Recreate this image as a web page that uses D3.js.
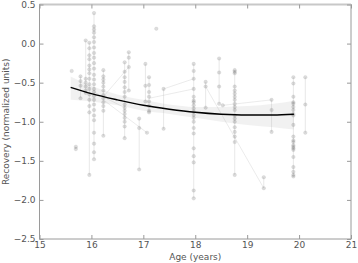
<!DOCTYPE html>
<html><head><meta charset="utf-8">
<script src="https://cdn.jsdelivr.net/npm/d3@7"></script>
<style>html,body{margin:0;padding:0;background:#fff;}svg{display:block;font-family:"DejaVu Sans",sans-serif;}</style>
</head><body><div id="chart"></div>
<script>
// Subjects: each a column of repeated measurements at one age
const subjectAges = [15.62, 15.70, 15.79, 15.89, 15.96, 16.05, 16.23, 16.64, 16.72, 16.92, 17.04, 17.11, 17.25, 17.07, 17.39, 17.97, 18.20, 18.46, 18.53, 18.76, 19.32, 19.47, 19.89, 20.12];
const subjectValues = [
  [-0.35],
  [-1.32, -1.35],
  [-0.42, -0.48, -0.54, -0.70],
  [0.04, -0.45, -0.50, -0.55, -0.60, -0.63],
  [0.01, -0.06, -0.15, -0.20, -0.28, -0.33, -0.38, -0.45, -0.52, -0.58, -0.65, -0.72, -0.80, -0.88, -1.68],
  [0.39, 0.22, 0.18, 0.14, 0.08, 0.02, -0.05, -0.12, -0.18, -0.25, -0.32, -0.40, -0.46, -0.52, -0.58, -0.62, -0.67, -0.72, -0.78, -0.85, -0.92, -0.98, -1.14, -1.28, -1.39, -1.48],
  [-0.34, -0.42, -0.46, -0.50, -0.55, -0.60, -0.66, -0.70, -0.75, -0.80, -0.86, -1.18],
  [-0.24, -0.36, -0.43, -0.49, -0.56, -0.62, -0.68, -0.78, -0.82, -0.86, -0.90, -0.95, -1.00, -1.06, -1.21],
  [-0.11, -0.18, -0.30, -0.60],
  [-0.96, -1.08, -1.61],
  [-0.26, -0.54, -0.74],
  [-0.43, -0.53, -0.62, -0.68, -0.74, -0.80, -0.86, -0.88],
  [0.19],
  [-1.14],
  [-0.58, -1.09],
  [-0.26, -0.35, -0.45, -0.58, -0.68, -0.73, -0.75, -0.79, -0.83, -0.87, -0.91, -0.95, -1.00, -1.08, -1.15, -1.34, -1.44, -1.52, -1.88, -1.98],
  [-0.49, -0.55, -0.82],
  [-0.19, -0.37, -0.55, -0.77],
  [-0.79],
  [-0.34, -0.36, -0.38, -0.55, -0.60, -0.64, -0.68, -0.72, -0.77, -0.81, -0.85, -0.92, -0.96, -1.00, -1.07, -1.13, -1.19, -1.26, -1.68],
  [-1.71, -1.85],
  [-0.72, -0.85, -1.13],
  [-0.43, -0.51, -0.68, -0.75, -0.77, -0.81, -0.85, -0.90, -0.92, -1.04, -1.19, -1.24, -1.26, -1.30, -1.32, -1.34, -1.36, -1.45, -1.58, -1.64, -1.68, -1.70],
  [-0.43, -0.78, -1.14]
];
// Longitudinal links between sessions at different ages
const linkFromAge = [16.23, 16.23, 17.11, 18.20, 18.53, 16.05, 17.39];
const linkFromVal = [-0.68, -0.72, -0.70, -0.55, -0.79, -0.62, -0.58];
const linkToAge   = [16.72, 17.07, 17.97, 19.32, 19.47, 16.64, 17.97];
const linkToVal   = [-0.30, -1.14, -0.58, -1.85, -0.72, -0.82, -0.45];
// Model fit and confidence band
const fitAges  = [15.6, 16.0, 16.5, 17.0, 17.5, 18.0, 18.5, 19.0, 19.5, 19.9];
const fitVals  = [-0.56, -0.64, -0.72, -0.79, -0.84, -0.88, -0.905, -0.915, -0.915, -0.905];
const fitLower = [-0.72, -0.74, -0.79, -0.86, -0.90, -0.95, -1.00, -1.04, -1.07, -1.10];
const fitUpper = [-0.42, -0.54, -0.65, -0.72, -0.78, -0.81, -0.81, -0.80, -0.77, -0.73];
const xTicks = [15, 16, 17, 18, 19, 20, 21];
const yTicks = [0.5, 0.0, -0.5, -1.0, -1.5, -2.0, -2.5];

const W = 358, H = 263;
const m = {left: 39.5, right: 7, top: 4.5, bottom: 24};
const svg = d3.select("#chart").append("svg").attr("width", W).attr("height", H);
const x = d3.scaleLinear().domain([15, 21]).range([m.left, W - m.right]);
const y = d3.scaleLinear().domain([-2.5, 0.5]).range([H - m.bottom, m.top]);

const g = svg.append("g");
const area = d3.area().x((d, i) => x(fitAges[i])).y0((d, i) => y(fitLower[i])).y1((d, i) => y(fitUpper[i])).curve(d3.curveMonotoneX);
g.append("path").datum(fitAges).attr("d", area).attr("fill", "#000").attr("fill-opacity", 0.055);

subjectAges.forEach((a, i) => {
  const vs = subjectValues[i];
  if (vs.length > 1) {
    g.append("line").attr("x1", x(a)).attr("x2", x(a))
      .attr("y1", y(d3.max(vs))).attr("y2", y(d3.min(vs)))
      .attr("stroke", "#aaa").attr("stroke-opacity", 0.35).attr("stroke-width", 0.8);
  }
});
linkFromAge.forEach((a, i) => {
  g.append("line").attr("x1", x(a)).attr("y1", y(linkFromVal[i]))
    .attr("x2", x(linkToAge[i])).attr("y2", y(linkToVal[i]))
    .attr("stroke", "#aaa").attr("stroke-opacity", 0.3).attr("stroke-width", 0.8);
});
const pts = [];
subjectAges.forEach((a, i) => subjectValues[i].forEach(v => pts.push([a, v])));
g.selectAll("circle.pt").data(pts).enter().append("circle").attr("class", "pt")
  .attr("cx", d => x(d[0])).attr("cy", d => y(d[1])).attr("r", 1.8)
  .attr("fill", "#555").attr("fill-opacity", 0.2)
  .attr("stroke", "#555").attr("stroke-opacity", 0.15).attr("stroke-width", 0.5);

const line = d3.line().x((d, i) => x(fitAges[i])).y((d, i) => y(fitVals[i])).curve(d3.curveMonotoneX);
g.append("path").datum(fitVals).attr("d", line).attr("fill", "none").attr("stroke", "#000").attr("stroke-width", 1.5);

const axColor = "#9a9a9a";
svg.append("rect").attr("x", x(15)).attr("y", y(0.5)).attr("width", x(21) - x(15)).attr("height", y(-2.5) - y(0.5))
  .attr("fill", "none").attr("stroke", axColor).attr("stroke-width", 1);
svg.append("line").attr("x1", x(15)).attr("x2", x(21)).attr("y1", y(0.5)).attr("y2", y(0.5)).attr("stroke", "#c8c8c8").attr("stroke-width", 2);

const fmtY = d => (d < 0 ? "\u2212" : "") + Math.abs(d).toFixed(1);
const xAxB = d3.axisBottom(x).tickValues(xTicks).tickSizeInner(-4).tickSizeOuter(0).tickPadding(3).tickFormat(d3.format("d"));
const xAxT = d3.axisTop(x).tickValues(xTicks).tickSizeInner(-4).tickSizeOuter(0).tickFormat("");
const yAxL = d3.axisLeft(y).tickValues(yTicks).tickSizeInner(-4).tickSizeOuter(0).tickPadding(4).tickFormat(fmtY);
const yAxR = d3.axisRight(y).tickValues(yTicks).tickSizeInner(-4).tickSizeOuter(0).tickFormat("");
function style(sel) {
  sel.select(".domain").remove();
  sel.selectAll(".tick line").attr("stroke", axColor);
  sel.selectAll(".tick text").attr("fill", "#555").attr("font-size", 9).attr("font-family", "DejaVu Sans, sans-serif");
}
svg.append("g").attr("transform", `translate(0,${y(-2.5)})`).call(xAxB).call(style);
svg.append("g").attr("transform", `translate(0,${y(0.5)})`).call(xAxT).call(style);
svg.append("g").attr("transform", `translate(${x(15)},0)`).call(yAxL).call(style);
svg.append("g").attr("transform", `translate(${x(21)},0)`).call(yAxR).call(style);

svg.append("text").attr("x", (x(15) + x(21)) / 2).attr("y", 260).attr("text-anchor", "middle")
  .attr("fill", "#555").attr("font-size", 9).text("Age (years)");
svg.append("text").attr("transform", `translate(9,${(y(0.5) + y(-2.5)) / 2}) rotate(-90)`).attr("text-anchor", "middle")
  .attr("fill", "#555").attr("font-size", 9).text("Recovery (normalized units)");
</script></body></html>
